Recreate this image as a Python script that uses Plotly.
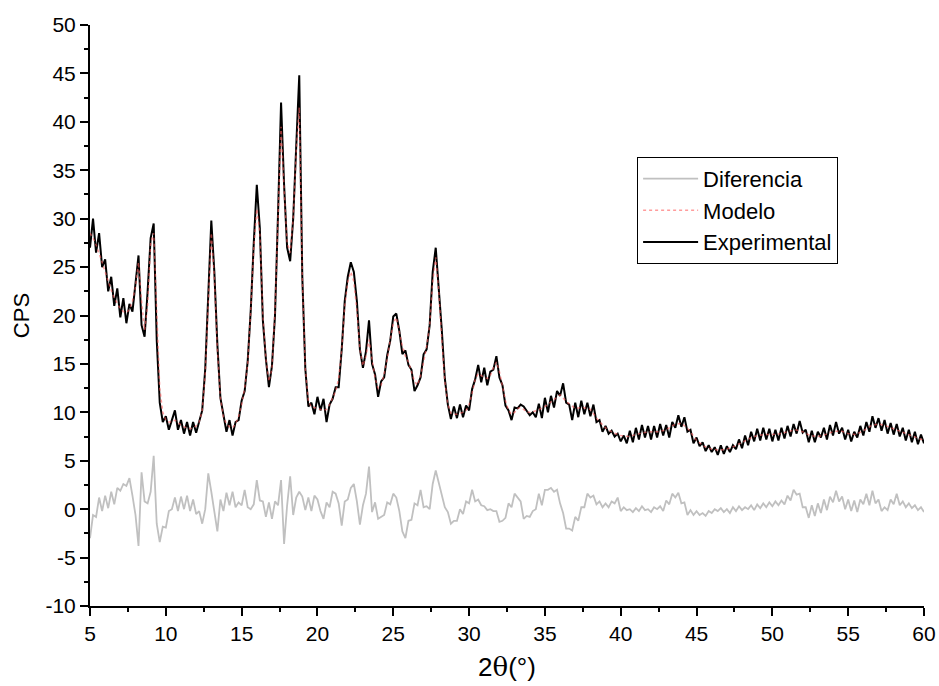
import plotly.graph_objects as go

# ---------------- data ----------------
# Experimental pattern, 2theta = 5.0 .. 60.0 step 0.2
exp_start, exp_step = 5.0, 0.2
experimental = [
    27.0, 30.0, 26.5, 28.5, 25.0, 25.8, 22.5, 24.0, 21.0, 22.8,   # 5.0-6.8
    19.8, 21.8, 19.2, 21.2, 20.4, 23.0, 26.2, 19.0, 17.8, 22.5,   # 7.0-8.8
    28.0, 29.5, 17.5, 11.0, 9.0, 9.6, 8.2, 9.2, 10.2, 8.2,        # 9.0-10.8
    9.2, 7.8, 9.0, 7.6, 9.0, 7.9, 9.2, 10.2, 14.5, 22.0,          # 11.0-12.8
    29.8, 24.5, 17.0, 11.5, 9.6, 8.0, 9.2, 7.6, 9.0, 9.2,         # 13.0-14.8
    11.2, 12.2, 15.3, 20.5, 27.5, 33.5, 29.0, 19.5, 15.5, 12.6,   # 15.0-16.8
    14.8, 20.0, 30.5, 42.0, 33.5, 27.0, 25.6, 30.0, 37.5, 44.8,   # 17.0-18.8
    24.0, 14.5, 10.6, 11.0, 9.8, 11.6, 10.2, 11.4, 9.0, 10.8,     # 19.0-20.8
    11.4, 12.6, 12.6, 16.5, 21.5, 24.0, 25.5, 24.5, 21.5, 16.5,   # 21.0-22.8
    14.6, 16.3, 19.5, 15.0, 13.9, 11.6, 13.2, 13.6, 15.9, 17.4,   # 23.0-24.8
    19.9, 20.2, 18.4, 16.0, 16.4, 14.9, 14.4, 12.2, 12.8, 13.6,   # 25.0-26.8
    16.0, 16.5, 19.0, 24.5, 27.0, 23.0, 18.5, 13.5, 10.8, 9.3,    # 27.0-28.8
    10.6, 9.4, 10.8, 9.5, 10.7, 10.2, 12.4, 13.4, 14.9, 13.1,     # 29.0-30.8
    14.6, 12.8, 14.2, 14.4, 15.8, 13.6, 12.8, 10.7, 10.2, 9.2,    # 31.0-32.8
    10.5, 10.4, 10.8, 10.6, 10.2, 9.7, 10.0, 9.5, 10.9, 9.4,      # 33.0-34.8
    11.5, 10.0, 11.7, 10.5, 12.2, 11.7, 13.0, 11.0, 10.8, 9.2,    # 35.0-36.8
    11.0, 9.5, 11.2, 9.8, 11.0, 9.6, 10.8, 9.0, 9.2, 8.0,         # 37.0-38.8
    8.6, 7.8, 8.1, 7.5, 7.8, 7.0, 7.6, 6.8, 8.1, 6.9,             # 39.0-40.8
    8.4, 7.2, 8.7, 7.4, 8.6, 7.2, 8.6, 7.4, 8.8, 7.6,             # 41.0-42.8
    8.7, 7.4, 9.0, 8.4, 9.7, 8.5, 9.5, 8.0, 8.2, 6.8,             # 43.0-44.8
    7.4, 6.5, 6.9, 6.0, 6.6, 5.9, 6.4, 5.6, 6.6, 5.7,             # 45.0-46.8
    6.5, 5.9, 6.6, 6.2, 7.2, 6.3, 7.6, 6.6, 8.0, 7.0,             # 47.0-48.8
    8.3, 7.1, 8.4, 7.2, 8.3, 7.0, 8.2, 7.1, 8.4, 7.3,             # 49.0-50.8
    8.6, 7.5, 8.8, 7.8, 9.1, 7.9, 8.2, 6.9, 8.1, 6.9,             # 51.0-52.8
    8.0, 7.4, 8.4, 7.2, 8.7, 7.6, 9.0, 7.8, 8.4, 7.2,             # 53.0-54.8
    8.2, 7.0, 8.0, 7.4, 8.6, 7.6, 9.0, 8.0, 9.6, 8.4,             # 55.0-56.8
    9.4, 8.1, 9.2, 7.8, 8.9, 7.7, 8.8, 7.5, 8.4, 7.1,             # 57.0-58.8
    8.2, 6.9, 8.0, 6.7, 7.7, 6.8,                                 # 59.0-60.0
]

# Difference curve, same 2theta grid
diferencia = [
    -3.0, -0.6, -0.8, 1.2, -0.2, 1.4, 0.1, 1.8, 0.5, 2.2,
    1.9, 2.6, 2.4, 3.2, 1.4, -0.6, -3.8, 3.8, 0.8, 0.6,
    1.8, 5.5, -1.5, -3.4, -1.8, -1.9, -0.2, 0.0, 1.2, -0.2,
    1.3, 0.0, 1.4, -0.2, 1.0, -0.5, -0.2, -1.5, 0.0, 3.7,
    1.8, -0.2, -2.3, 1.0, -0.2, 1.7, 0.4, 1.8, 0.2, 0.7,
    0.4, 2.0, 0.2, 0.0, 0.5, 3.0, 0.9, 0.8, -0.8, 0.7,
    -1.0, 0.8, 0.4, 3.0, -3.6, 0.4, 3.4, -0.6, 1.2, 1.8,
    1.3, -0.1, 1.2, -0.2, 1.4, 1.0, -0.2, -1.0, 0.7, 0.2,
    1.8, 1.6, 0.6, -1.7, 0.8, 1.0, 2.2, 2.6, 0.8, -1.6,
    0.4, 1.6, 4.4, -0.3, 0.7, -1.0, -0.8, -0.6, 0.7, 0.5,
    1.6, 1.2, -0.2, -2.3, -3.0, -1.2, -1.1, 0.6, 0.4, 2.0,
    0.2, 0.3, 0.0, 2.6, 4.0, 2.8, 1.4, 0.2, -0.3, -1.5,
    -1.2, -1.2, 0.0, -0.5, 0.8, 0.6, 2.0, 0.8, 1.0, 0.4,
    0.3, -0.1, 0.0, -0.2, -0.2, -1.3, -1.2, -0.9, 0.6, 0.2,
    1.6, 1.2, 0.8, -1.0, -0.7, -0.8, -0.2, 0.0, 1.6, 0.4,
    2.0, 2.0, 2.2, 1.8, 2.0, 0.6, -0.4, -2.0, -2.0, -2.2,
    -0.8, -1.2, 0.2, 0.2, 1.6, 1.2, 1.4, 0.5, 0.8, 0.2,
    0.6, 0.2, 0.8, 0.6, 1.2, -0.2, 0.2, -0.1, 0.0, -0.3,
    0.1, -0.2, 0.3, -0.1, 0.0, -0.3, 0.2, 0.0, 0.3, -0.2,
    0.9, 0.5, 1.6, 1.2, 1.7, 0.6, 0.7, -0.6, -0.1, -0.6,
    -0.2, -0.6, -0.4, -0.7, -0.2, -0.4, 0.0, -0.2, 0.1, -0.3,
    0.0, -0.4, 0.2, -0.2, 0.3, -0.1, 0.2, 0.0, 0.4, -0.1,
    0.5, 0.1, 0.6, 0.2, 0.7, 0.3, 0.8, 0.4, 0.9, 0.5,
    1.4, 0.9, 2.0, 1.5, 1.6, 0.2, 0.2, -0.9, 0.4, -0.7,
    0.6, -0.4, 1.0, -0.1, 1.3, 0.7, 1.9, 0.8, 1.3, 0.0,
    1.0, -0.2, 0.9, -0.3, 1.0, 0.5, 1.6, 0.4, 1.9, 0.6,
    1.0, -0.2, 0.2, -0.1, 1.0, 0.5, 1.6, 0.4, 0.8, 0.2,
    0.6, 0.1, 0.4, -0.1, 0.2, -0.3,
]

# Model (fit), 2theta 5.0..34.0 step 0.2 then 34.5..60.0 step 0.5
modelo_x = [round(5.0 + 0.2 * i, 1) for i in range(146)] + \
           [round(34.5 + 0.5 * i, 1) for i in range(52)]
modelo = [
    28.5, 28.0, 27.3, 26.5, 25.5, 24.5, 23.5, 22.6, 21.8, 21.2,
    20.7, 20.4, 20.3, 20.6, 21.5, 23.0, 25.5, 21.5, 18.5, 21.0,
    27.5, 28.5, 20.0, 12.5, 10.0, 9.2, 9.0, 9.0, 9.2, 8.9,
    8.7, 8.5, 8.4, 8.3, 8.4, 8.6, 9.0, 10.2, 14.0, 21.0,
    28.5, 24.0, 16.5, 11.5, 9.5, 8.8, 8.5, 8.4, 8.8, 9.6,
    10.8, 12.5, 15.0, 20.5, 27.0, 31.0, 28.5, 20.0, 15.5, 13.2,
    14.5, 20.5, 30.0, 39.5, 33.0, 27.5, 26.5, 30.0, 37.0, 41.5,
    24.0, 14.5, 11.2, 10.5, 10.5, 10.4, 10.3, 10.2, 10.3, 10.8,
    11.5, 12.2, 13.5, 16.5, 21.0, 23.5, 24.5, 23.5, 20.5, 16.5,
    14.8, 15.8, 17.5, 15.5, 13.5, 12.5, 12.8, 14.0, 15.5, 17.5,
    19.2, 19.8, 18.2, 16.8, 15.8, 15.2, 14.2, 13.2, 12.8, 13.8,
    15.2, 16.8, 19.0, 23.5, 26.0, 22.5, 17.5, 13.2, 10.8, 9.9,
    9.8, 9.8, 9.9, 10.0, 10.2, 10.8, 12.0, 13.4, 14.0, 13.8,
    13.6, 13.5, 13.8, 14.6, 15.2, 14.2, 12.6, 11.2, 10.2, 9.8,
    10.0, 10.4, 10.5, 10.3, 10.0, 10.0,
    10.2, 10.6, 11.2, 11.8, 11.0, 10.4, 10.5, 10.3, 9.2, 8.4,
    7.9, 7.6, 7.5, 7.7, 7.9, 8.0, 8.0, 8.2, 8.7, 8.9,
    8.2, 7.1, 6.5, 6.2, 6.1, 6.2, 6.5, 6.9, 7.3, 7.6,
    7.7, 7.7, 7.8, 8.0, 8.2, 8.0, 7.6, 7.5, 7.7, 8.0,
    8.1, 7.8, 7.7, 8.1, 8.6, 8.8, 8.6, 8.3, 8.0, 7.7,
    7.4, 7.1,
]

assert len(experimental) == 276 and len(diferencia) == 276
assert len(modelo) == len(modelo_x)

two_theta = [round(exp_start + exp_step * i, 1) for i in range(len(experimental))]

x_ticks = [5, 10, 15, 20, 25, 30, 35, 40, 45, 50, 55, 60]
y_ticks = [-10, -5, 0, 5, 10, 15, 20, 25, 30, 35, 40, 45, 50]

# ---------------- figure ----------------
TICK_FONT = dict(family="Liberation Sans, Arial", size=21, color="black")

fig = go.Figure()
fig.add_trace(go.Scatter(
    x=two_theta, y=diferencia, mode="lines", name="Diferencia",
    line=dict(color="#c0c0c0", width=1.8), legendrank=1))
fig.add_trace(go.Scatter(
    x=two_theta, y=experimental, mode="lines", name="Experimental",
    line=dict(color="black", width=2.0), legendrank=3))
fig.add_trace(go.Scatter(
    x=modelo_x, y=modelo, mode="lines", name="Modelo",
    line=dict(color="rgba(255,90,90,0.6)", width=1.5, dash="dot"), legendrank=2))

axis_common = dict(
    showgrid=False, zeroline=False, showline=True, linecolor="black", linewidth=2,
    ticks="outside", ticklen=8, tickwidth=2, tickcolor="black",
    tickfont=TICK_FONT, mirror=False, automargin=False,
)

fig.update_xaxes(
    range=[5, 60], tickvals=x_ticks, ticktext=[str(v) for v in x_ticks],
    minor=dict(ticks="outside", ticklen=4, tickwidth=1.5, tickcolor="black", dtick=2.5, tick0=5),
    title=dict(text="2<span style='font-family:DejaVu Serif'>θ</span>(°)",
               font=dict(family="Liberation Sans, Arial", size=26, color="black"),
               standoff=14),
    **axis_common)
fig.update_yaxes(
    range=[-10, 50], tickvals=y_ticks, ticktext=[str(v) for v in y_ticks],
    minor=dict(ticks="outside", ticklen=4, tickwidth=1.5, tickcolor="black", dtick=2.5, tick0=0),
    title=dict(text="CPS",
               font=dict(family="Liberation Sans, Arial", size=22, color="black"),
               standoff=10),
    **axis_common)

fig.update_layout(
    width=939, height=686,
    margin=dict(l=90, r=15, t=25, b=80),
    paper_bgcolor="white", plot_bgcolor="white",
    showlegend=True,
    legend=dict(
        x=0.656, y=0.773, xanchor="left", yanchor="top",
        bgcolor="white", bordercolor="black", borderwidth=1,
        font=dict(family="Liberation Sans, Arial", size=22, color="black"),
        itemwidth=55, tracegroupgap=0,
    ),
)

fig.write_html("out.html")
